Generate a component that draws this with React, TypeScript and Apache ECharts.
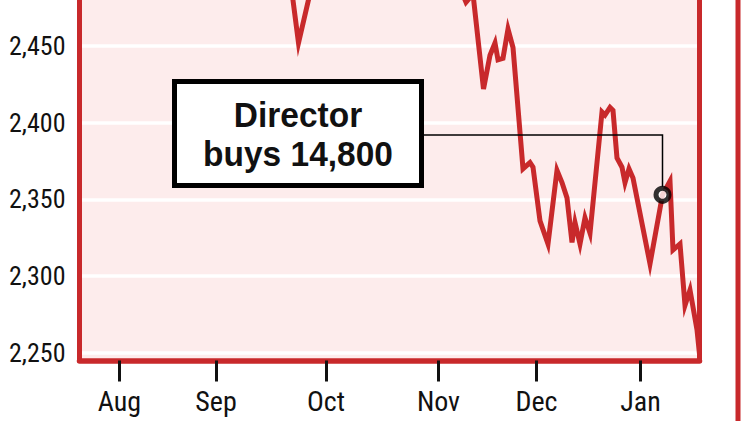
import React, { useEffect, useRef } from "react";
import * as echarts from "echarts";

// Trading-day position (x) and share price (pence)
const tradingDay = [
  41.9, 43.8, 46.5, 55, 65, 73, 76.1, 77.3, 78.7,
  80.8, 82.1, 83.1, 83.7, 84.7, 85.7, 86.7, 88.7, 90.1, 90.7,
  92.1, 93.7, 95.5, 96.5, 97.5, 98.5, 99.1, 100.1, 101.1, 102.1,
  104.5, 105.1, 106.1, 106.7, 107.5, 108.5, 109.1, 109.9, 110.7,
  114.1, 116.6, 118.1, 118.7, 120.1, 121.1, 122.1, 123.5, 124.0,
];
const price = [
  2500, 2452, 2490, 2510, 2520, 2500, 2488, 2478.5, 2484,
  2422, 2444, 2452, 2441, 2442, 2461, 2449, 2370, 2374, 2371,
  2336, 2321, 2369, 2361, 2351, 2322, 2335, 2321, 2338, 2328,
  2407, 2405, 2410, 2408, 2377, 2371, 2361, 2370, 2364,
  2308, 2353, 2362, 2317, 2321, 2281, 2291, 2265, 2249,
];

const monthTicks = [8, 27.3, 49.3, 71.8, 91.4, 112.2];
const monthLabels = ["Aug", "Sep", "Oct", "Nov", "Dec", "Jan"];
const priceTicks = [2250, 2300, 2350, 2400, 2450];
const yMin = 2245;
const yMax = 2480;
const xMin = 0;
const xMax = 124;

const directorBuyDay = 116.6;
const directorBuyPrice = 2353;
const annotationLines = ["Director", "buys 14,800"];

const RED = "#c8292b";
const PINK = "#fdecec";
const CONDENSED = "Roboto;font-stretch:75%";

export default function App() {
  const ref = useRef<HTMLDivElement>(null);

  useEffect(() => {
    if (!ref.current) return;
    const chart = echarts.init(ref.current, null, { renderer: "svg" });
    chart.setOption({
      animation: false,
      backgroundColor: "#ffffff",
      grid: {
        left: 79.5,
        right: 50.5,
        top: 0,
        bottom: 60.5,
        show: true,
        backgroundColor: PINK,
        borderWidth: 0,
      },
      xAxis: {
        type: "value",
        min: xMin,
        max: xMax,
        axisLine: { show: true, onZero: false, lineStyle: { color: RED, width: 5.5 } },
        axisTick: {
          show: true,
          customValues: monthTicks,
          length: 21,
          lineStyle: { color: "#111", width: 3 },
        },
        axisLabel: {
          customValues: monthTicks,
          formatter: (v: number) => {
            let best = 0;
            monthTicks.forEach((t, i) => {
              if (Math.abs(t - v) < Math.abs(monthTicks[best] - v)) best = i;
            });
            return monthLabels[best];
          },
          margin: 36,
          color: "#111",
          fontSize: 28,
          fontFamily: CONDENSED,
        },
        splitLine: { show: false },
      },
      yAxis: [
        {
          type: "value",
          min: yMin,
          max: yMax,
          axisLine: { show: true, lineStyle: { color: RED, width: 5 } },
          axisTick: { show: false, customValues: priceTicks },
          axisLabel: {
            customValues: priceTicks,
            formatter: (v: number) => v.toLocaleString("en-US"),
            margin: 14,
            color: "#111",
            fontSize: 26,
            fontFamily: CONDENSED,
          },
          splitLine: { show: true, lineStyle: { color: "#ffffff", width: 3.5 } },
        },
        {
          type: "value",
          position: "right",
          min: yMin,
          max: yMax,
          axisLine: { show: true, lineStyle: { color: RED, width: 5 } },
          axisTick: { show: false },
          axisLabel: { show: false },
          splitLine: { show: false },
        },
      ],
      series: [
        {
          type: "line",
          data: tradingDay.map((d, i) => [d, price[i]]),
          symbol: "none",
          clip: true,
          lineStyle: { color: RED, width: 5, join: "miter", miterLimit: 6 },
          z: 3,
        },
        {
          type: "scatter",
          data: [[directorBuyDay, directorBuyPrice]],
          symbol: "circle",
          symbolSize: 13,
          itemStyle: { color: "#ffffff", borderColor: "#000000", borderWidth: 5 },
          z: 6,
        },
      ],
    });

    const [mx, my] = chart.convertToPixel({ xAxisIndex: 0, yAxisIndex: 0 }, [
      directorBuyDay,
      directorBuyPrice,
    ]) as number[];
    const boxRight = 424;
    const connectorY = 135;

    chart.setOption({
      graphic: [
        {
          type: "rect",
          left: 735.5,
          top: 0,
          shape: { width: 5, height: 421 },
          style: { fill: RED },
        },
        {
          type: "polyline",
          z: 5,
          shape: {
            points: [
              [boxRight, connectorY],
              [mx, connectorY],
              [mx, my - 8],
            ],
          },
          style: { stroke: "#000", lineWidth: 1.5, fill: null },
        },
        {
          type: "rect",
          z: 10,
          shape: { x: 174.5, y: 81.5, width: 247, height: 104 },
          style: { fill: "#ffffff", stroke: "#000000", lineWidth: 5 },
        },
        ...annotationLines.map((t, i) => ({
          type: "text",
          z: 11,
          x: 298,
          y: i === 0 ? 115 : 154,
          scaleX: 0.93,
          style: {
            text: t,
            x: 0,
            y: 0,
            align: "center",
            textAlign: "center",
            verticalAlign: "middle",
            textVerticalAlign: "middle",
            font: "bold 36px 'Liberation Sans', Arial, sans-serif",
            fill: "#111",
          },
        })),
      ],
    });

    return () => chart.dispose();
  }, []);

  return (
    <div
      ref={ref}
      style={{ position: "fixed", left: 0, top: 0, width: 750, height: 421 }}
    />
  );
}
